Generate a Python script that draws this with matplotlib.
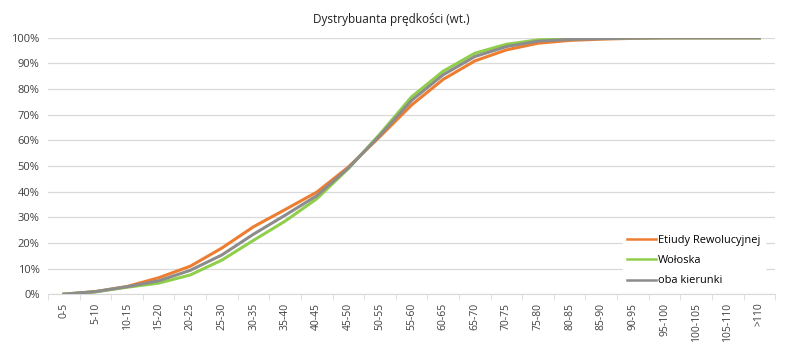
import numpy as np
import matplotlib.pyplot as plt

plt.rcParams['font.family'] = ['Open Sans', 'DejaVu Sans']

categories = ['0-5', '5-10', '10-15', '15-20', '20-25', '25-30', '30-35', '35-40',
              '40-45', '45-50', '50-55', '55-60', '60-65', '65-70', '70-75', '75-80',
              '80-85', '85-90', '90-95', '95-100', '100-105', '105-110', '>110']

etiudy = [0.0, 1.0, 3.0, 6.4, 10.9, 18.0, 26.3, 33.0, 39.8, 49.6, 61.5, 73.8,
          83.8, 91.0, 95.3, 97.9, 99.0, 99.5, 99.8, 100, 100, 100, 100]
woloska = [0.0, 0.9, 2.7, 4.3, 7.5, 13.3, 21.0, 28.5, 37.2, 49.0, 62.5, 77.0,
           87.0, 94.0, 97.5, 99.2, 99.6, 99.9, 100, 100, 100, 100, 100]
oba = [0.0, 1.0, 2.9, 5.2, 9.3, 15.3, 23.4, 30.8, 38.4, 49.2, 62.0, 75.6,
       85.6, 92.7, 96.6, 98.7, 99.4, 99.7, 99.9, 100, 100, 100, 100]

fig = plt.figure(figsize=(8, 3.57), dpi=100)
ax = fig.add_axes([0.06, 0.176, 0.909, 0.718])

x = np.arange(len(categories))
ax.plot(x, etiudy, color='#ED7D31', lw=2.2, label='Etiudy Rewolucyjnej', zorder=3)
ax.plot(x, woloska, color='#8FCF4B', lw=2.2, label='Wołoska', zorder=3)
ax.plot(x, oba, color='#8C8C8C', lw=2.2, label='oba kierunki', zorder=4)

ax.set_xlim(-0.5, len(categories) - 0.5)
ax.set_ylim(0, 100)
ax.set_yticks(np.arange(0, 101, 10))
ax.set_yticklabels([f'{v}%' for v in range(0, 101, 10)])
ax.set_xticks(x)
ax.set_xticklabels(categories, rotation=90)
ax.set_xticks(np.arange(-0.5, len(categories), 1), minor=True)

ax.grid(axis='y', color='#D9D9D9', lw=0.9)
ax.set_axisbelow(True)
for s in ['top', 'right', 'left']:
    ax.spines[s].set_visible(False)
ax.spines['bottom'].set_color('#D9D9D9')
ax.tick_params(axis='x', which='major', length=0, labelsize=7.5, colors='#404040', pad=6)
ax.tick_params(axis='x', which='minor', length=4, color='#D9D9D9')
ax.tick_params(axis='y', length=0, labelsize=8, colors='#404040', pad=6)

fig.text(391 / 800, 1 - 20 / 357, 'Dystrybuanta prędkości (wt.)', fontsize=8.5,
         color='#202020', ha='center', va='center')

leg = ax.legend(loc='lower right', bbox_to_anchor=(0.99, 0.0), frameon=True,
                fontsize=7.9, handlelength=2.6, handletextpad=0.2, labelspacing=0.85,
                borderaxespad=0.3, fancybox=False)
leg.get_frame().set_edgecolor('white')
leg.get_frame().set_facecolor('white')
leg.get_frame().set_alpha(1)
for h in leg.legend_handles:
    h.set_linewidth(1.8)

fig.savefig('out.png', dpi=100)
